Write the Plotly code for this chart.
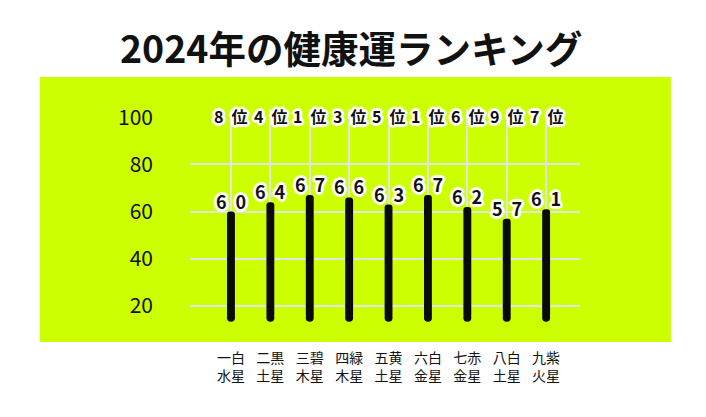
import plotly.graph_objects as go

# 九星ごとの健康運スコアと順位
stars = ["一白<br>水星", "二黒<br>土星", "三碧<br>木星", "四緑<br>木星", "五黄<br>土星",
         "六白<br>金星", "七赤<br>金星", "八白<br>土星", "九紫<br>火星"]
scores = [60, 64, 67, 66, 63, 67, 62, 57, 61]
ranks = [8, 4, 1, 3, 5, 1, 6, 9, 7]
y_ticks = [20, 40, 60, 80, 100]
grid_ticks = [20, 40, 60, 80]

GREEN = "#CCFF00"
BAR = "#0a0a0a"
FONT = "Noto Sans CJK JP"
BASE = 15
Y_RANGE = [13.2, 103.5]
OUTLINE = ("white 2px 0 1px, white -2px 0 1px, white 0 2px 1px, white 0 -2px 1px, "
           "white 2px 2px 1px, white -2px -2px 1px, white 2px -2px 1px, white -2px 2px 1px, "
           "white 3px 0 1px, white -3px 0 1px, white 0 3px 1px, white 0 -3px 1px")
GAP = "\u2002"

fig = go.Figure()

fig.add_trace(go.Bar(
    x=stars,
    y=[s - BASE for s in scores],
    base=BASE,
    width=0.2,
    marker=dict(color=BAR, cornerradius="50%", line_width=0),
    hoverinfo="skip",
))

# rounded bottom of each bar (on the overlay axis so its grid is drawn)
fig.add_trace(go.Scatter(
    x=stars,
    y=[BASE] * len(stars),
    yaxis="y2",
    mode="markers",
    marker=dict(color=BAR, size=8, symbol="circle"),
    hoverinfo="skip",
))

for star, score, rank in zip(stars, scores, ranks):
    fig.add_annotation(
        x=star, y=score, yshift=11, showarrow=False,
        text=GAP.join(str(score)),
        font=dict(family=FONT, size=18, weight="bold", color="#111", shadow=OUTLINE),
    )
    fig.add_annotation(
        x=star, y=100, yshift=1, showarrow=False,
        text=f"{rank}{GAP}位",
        font=dict(family=FONT, size=16, weight="bold", color="#111", shadow=OUTLINE),
    )

fig.add_shape(
    type="rect", xref="paper", yref="paper",
    x0=-0.385, x1=1.233, y0=-0.094, y1=1.15,
    fillcolor=GREEN, line_width=0, layer="below",
)

fig.update_layout(
    width=706, height=417,
    margin=dict(l=182, r=134, t=101, b=103),
    paper_bgcolor="white",
    plot_bgcolor="rgba(0,0,0,0)",
    showlegend=False,
    title=dict(
        text="2024年の健康運ランキング",
        x=0.486, xanchor="center", y=0.9, yanchor="middle",
        font=dict(family=FONT, size=37.5, weight="bold", color="#111"),
    ),
    xaxis=dict(
        type="category", range=[-1.04, 8.86],
        showgrid=True, gridcolor="#e4e4e4", gridwidth=2,
        zeroline=False, showline=False, ticks="",
        ticklabelstandoff=26,
        tickfont=dict(family=FONT, size=14, color="#111"),
    ),
    yaxis=dict(
        range=Y_RANGE, tickvals=y_ticks,
        showgrid=False, zeroline=False, showline=False, ticks="",
        ticklabelstandoff=36,
        tickfont=dict(family=FONT, size=21, color="#111"),
    ),
    yaxis2=dict(
        range=Y_RANGE, overlaying="y", tickvals=grid_ticks,
        showgrid=True, gridcolor="#e4e4e4", gridwidth=2,
        showticklabels=False, zeroline=False, showline=False, ticks="",
    ),
)

fig.write_html("out.html")
